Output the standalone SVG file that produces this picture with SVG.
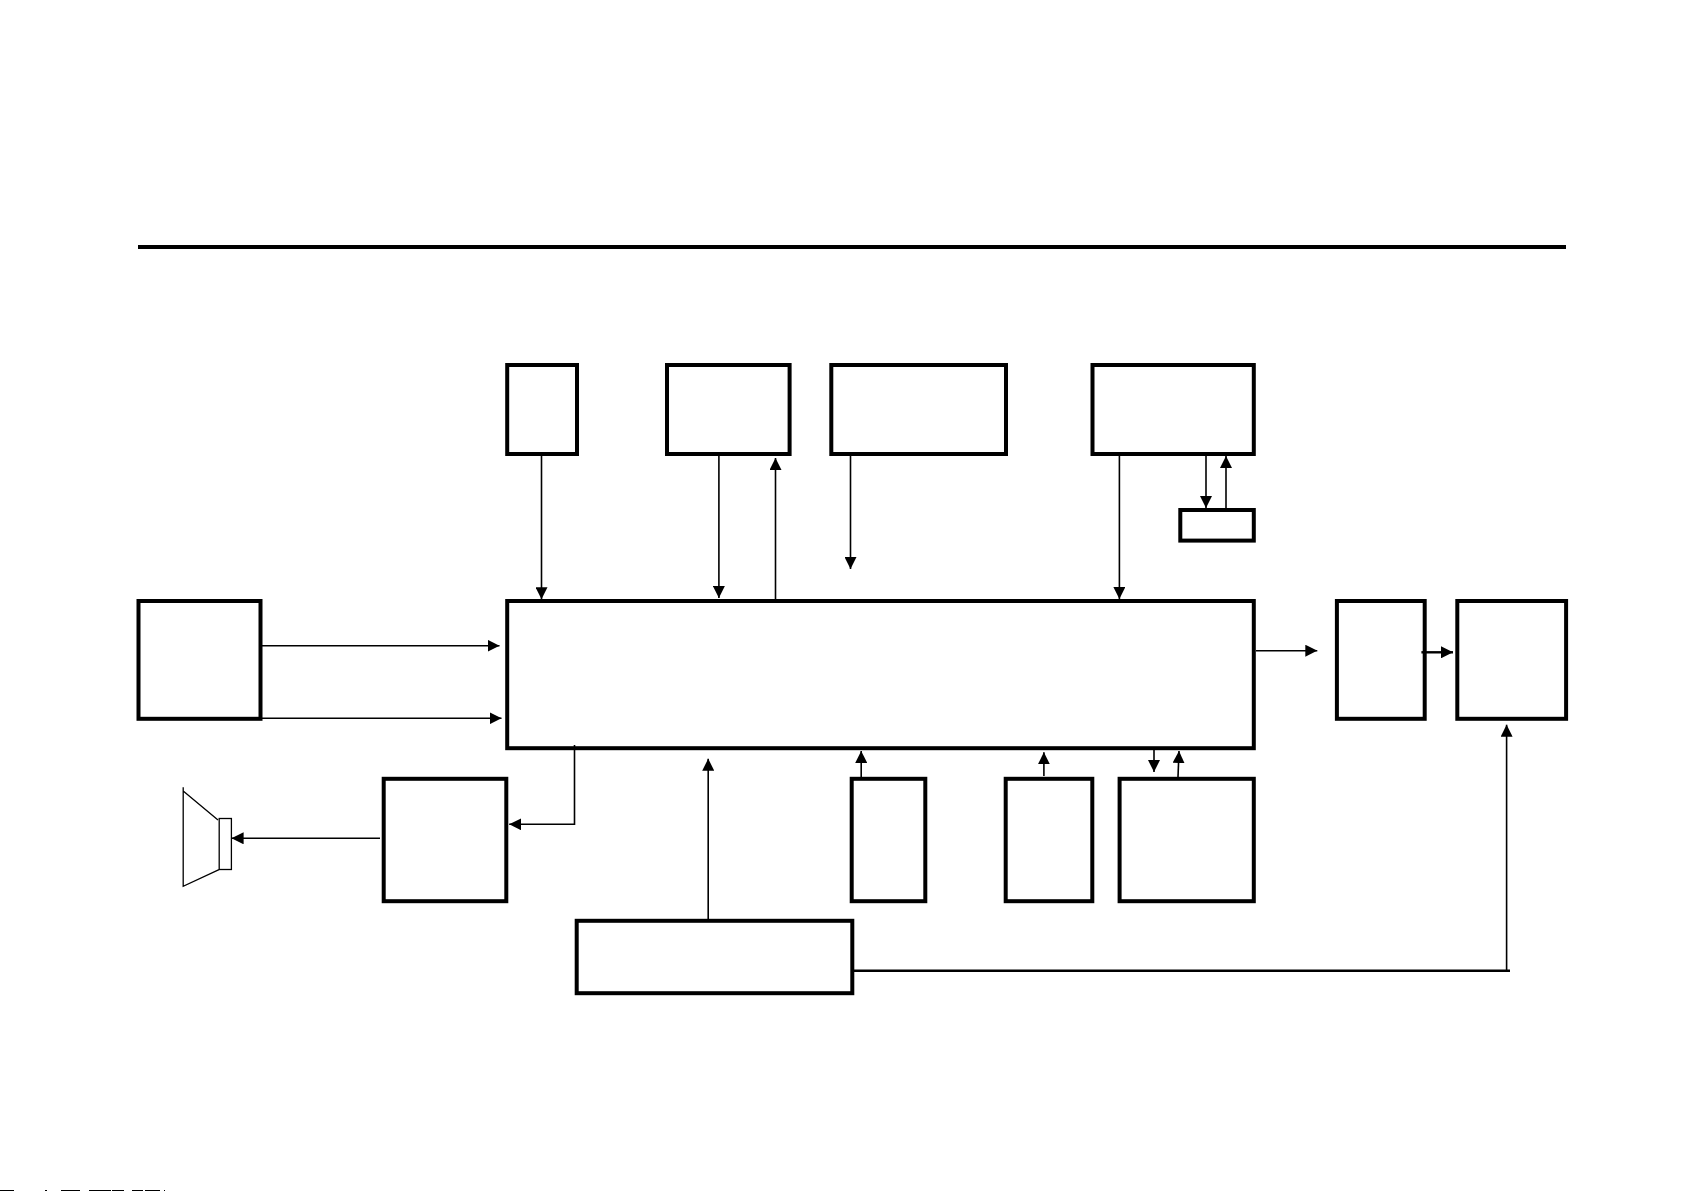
<svg xmlns="http://www.w3.org/2000/svg" width="1685" height="1191" viewBox="0 0 1685 1191">
<style>
.n{fill:none;stroke:#000;stroke-width:4}
.c{fill:none;stroke:#000;stroke-width:1.6}
.t{stroke-width:2.4}
.s{fill:none;stroke:#000;stroke-width:1.3}
</style>
<defs>
<marker id="a" markerUnits="userSpaceOnUse" markerWidth="12" markerHeight="12" refX="12" refY="6" orient="auto"><path d="M0 0L12 6L0 12Z" fill="#000"/></marker>
</defs>
<rect width="1685" height="1191" fill="#fff"/>
<line id="rule" x1="138" y1="247" x2="1566" y2="247" stroke="#000" stroke-width="4.2"/>
<g id="n-left"><rect class="n" x="138.5" y="601" width="122" height="117.8"/></g>
<g id="n-main"><rect class="n" x="507.2" y="601" width="746.6" height="147.2"/></g>
<g id="n-top1"><rect class="n" x="507.2" y="365" width="69.8" height="89"/></g>
<g id="n-top2"><rect class="n" x="667" y="365" width="122.6" height="89"/></g>
<g id="n-top3"><rect class="n" x="831.3" y="365" width="174.7" height="89"/></g>
<g id="n-top4"><rect class="n" x="1092.5" y="365" width="161.3" height="89"/></g>
<g id="n-small"><rect class="n" x="1180.3" y="510" width="73.5" height="30.6"/></g>
<g id="n-r1"><rect class="n" x="1336.9" y="601" width="87.8" height="117.8"/></g>
<g id="n-r2"><rect class="n" x="1457.3" y="601" width="108.8" height="117.8"/></g>
<g id="n-amp"><rect class="n" x="383.7" y="778.8" width="122.6" height="122.4"/></g>
<g id="n-bot"><rect class="n" x="576.7" y="920.8" width="275.6" height="72.4"/></g>
<g id="n-b1"><rect class="n" x="851.7" y="778.8" width="73.6" height="122.4"/></g>
<g id="n-b2"><rect class="n" x="1005.7" y="778.8" width="86.6" height="122.4"/></g>
<g id="n-b3"><rect class="n" x="1119.6" y="778.8" width="134.2" height="122.4"/></g>
<g id="n-speaker">
<rect class="s" x="219.2" y="818.5" width="12.2" height="51"/>
<path class="s" d="M183.2 787.3V886.3L219 869.7M183.2 791L218 820"/>
</g>
<g id="connectors">
<line class="c" x1="541.5" y1="456" x2="541.5" y2="599.3" marker-end="url(#a)"/>
<line class="c" x1="718.9" y1="456" x2="718.9" y2="598" marker-end="url(#a)"/>
<line class="c" x1="775.5" y1="599" x2="775.5" y2="458" marker-end="url(#a)"/>
<line class="c" x1="850.5" y1="456" x2="850.5" y2="569" marker-end="url(#a)"/>
<line class="c" x1="1119.4" y1="456" x2="1119.4" y2="599" marker-end="url(#a)"/>
<line class="c" x1="1206" y1="456" x2="1206" y2="508" marker-end="url(#a)"/>
<line class="c" x1="1226" y1="508" x2="1226" y2="456" marker-end="url(#a)"/>
<line class="c" x1="262" y1="645.7" x2="499.5" y2="645.7" marker-end="url(#a)"/>
<line class="c" x1="262" y1="718.3" x2="501.5" y2="718.3" marker-end="url(#a)"/>
<line class="c" x1="1256" y1="650.7" x2="1317.3" y2="650.7" marker-end="url(#a)"/>
<line class="c t" x1="1421.4" y1="652.3" x2="1453" y2="652.3" marker-end="url(#a)"/>
<path class="c t" d="M854 970.7H1510"/>
<line class="c" x1="1506.6" y1="970.7" x2="1506.6" y2="724.7" marker-end="url(#a)"/>
<path class="c" d="M574.5 745V824.3H509.2" marker-end="url(#a)"/>
<line class="c" x1="380" y1="838.3" x2="231.6" y2="838.3" marker-end="url(#a)"/>
<line class="c" x1="708.2" y1="919" x2="708.2" y2="758.7" marker-end="url(#a)"/>
<line class="c" x1="861.2" y1="777" x2="861.2" y2="751" marker-end="url(#a)"/>
<line class="c" x1="1043.9" y1="776" x2="1043.9" y2="752.3" marker-end="url(#a)"/>
<line class="c" x1="1154" y1="750" x2="1154" y2="772" marker-end="url(#a)"/>
<line class="c" x1="1178" y1="777" x2="1179" y2="751" marker-end="url(#a)"/>
</g>
<path d="M0 1190.5H14M45 1190.5H47M61 1190.5H80M89 1190.5H111M112 1190.5H124M132 1190.5H143M145 1190.5H160M164 1190.5H165" stroke="#000" stroke-width="1" fill="none"/>
</svg>
